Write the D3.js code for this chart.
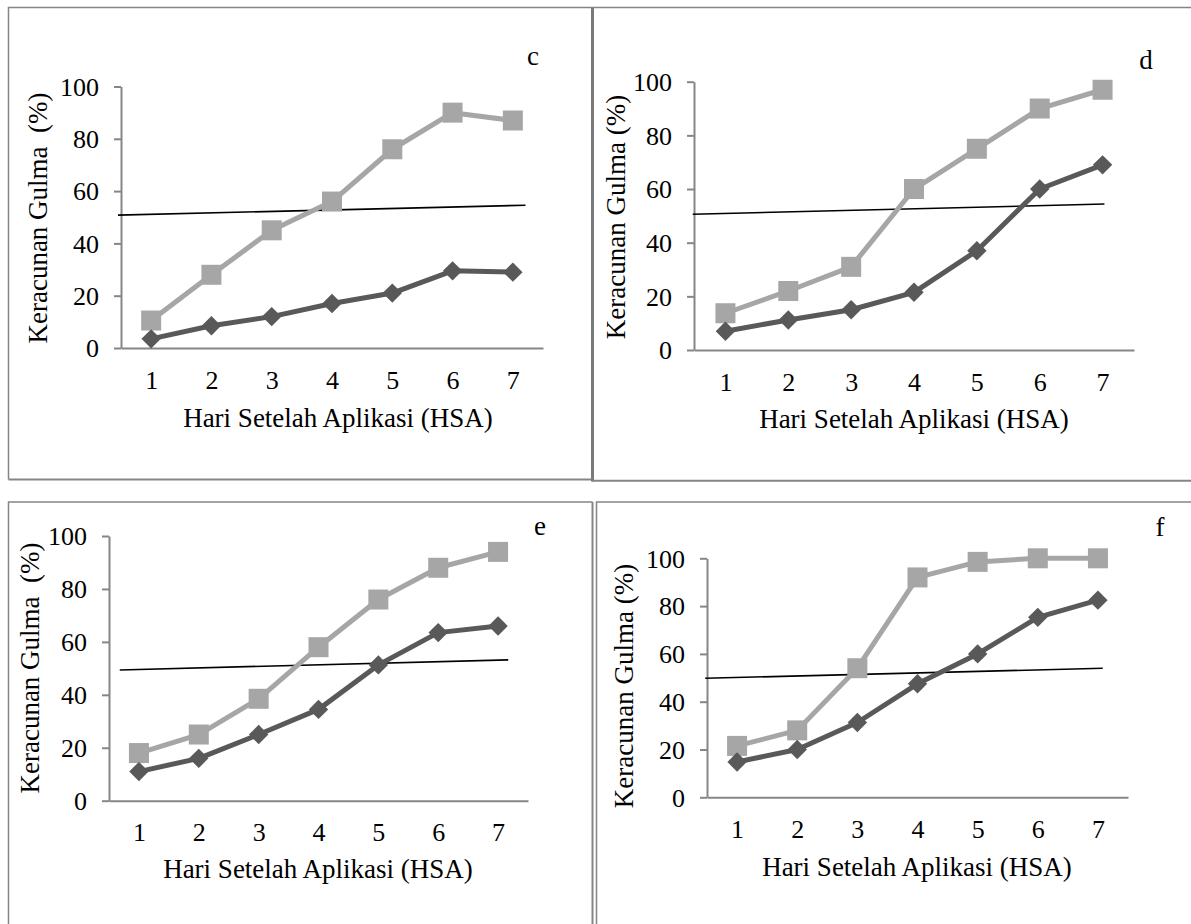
<!DOCTYPE html>
<html>
<head>
<meta charset="utf-8">
<script src="https://cdn.jsdelivr.net/npm/d3@7"></script>
<style>
  html, body { margin: 0; padding: 0; background: #fff; }
  svg { display: block; }
  text { font-family: "Liberation Serif", "Times New Roman", serif; fill: #000; }
</style>
</head>
<body>
<svg id="chart" width="1191" height="924"></svg>
<script>
// ---------- DATA ----------
const days = [1, 2, 3, 4, 5, 6, 7];
const yTicks = [0, 20, 40, 60, 80, 100];
const panelLabels = ["c", "d", "e", "f"];
const xAxisTitle = "Hari Setelah Aplikasi (HSA)";
const yAxisTitles = ["Keracunan Gulma  (%)", "Keracunan Gulma (%)", "Keracunan Gulma  (%)", "Keracunan Gulma (%)"];

// light grey series (squares)
const lightC = [10.5, 28, 45, 56, 76, 90, 87];
const lightD = [13.7, 22, 31, 60, 75, 90, 97];
const lightE = [18, 25, 38.5, 58, 76, 88, 94];
const lightF = [21.5, 28, 54, 92, 98.5, 100, 100];

// dark grey series (diamonds)
const darkC = [3.5, 8.5, 12, 17, 21, 29.5, 29];
const darkD = [7, 11.2, 15, 21.5, 37, 60, 69];
const darkE = [11, 16, 25, 34.5, 51.3, 63.5, 66];
const darkF = [14.8, 20, 31.3, 47.5, 60, 75.3, 82.5];

// black reference line: [day, value] at each end
const refC = [[0.45, 50.8], [7.21, 54.6]];
const refD = [[0.48, 50.6], [7.03, 54.4]];
const refE = [[0.68, 49.4], [7.17, 53.2]];
const refF = [[0.47, 49.8], [7.08, 54.0]];

// ---------- LAYOUT ----------
const panels = [
  { label: panelLabels[0], ytitle: yAxisTitles[0], light: lightC, dark: darkC, ref: refC,
    ax: 121, axEnd: 543, y0: 348, y100: 86.5,
    lab: [533, 65], ylab: [38, 218], xlab: [338, 427], tickBase: 389 },
  { label: panelLabels[1], ytitle: yAxisTitles[1], light: lightD, dark: darkD, ref: refD,
    ax: 694, axEnd: 1134, y0: 350, y100: 81.7,
    lab: [1146, 69], ylab: [616, 217], xlab: [914, 428], tickBase: 391 },
  { label: panelLabels[2], ytitle: yAxisTitles[2], light: lightE, dark: darkE, ref: refE,
    ax: 109, axEnd: 528, y0: 800.7, y100: 536,
    lab: [540, 535], ylab: [30.5, 668], xlab: [318, 878], tickBase: 841 },
  { label: panelLabels[3], ytitle: yAxisTitles[3], light: lightF, dark: darkF, ref: refF,
    ax: 707, axEnd: 1128, y0: 797.3, y100: 558.3,
    lab: [1160, 536], ylab: [624, 686], xlab: [917, 876], tickBase: 838 }
];

const FS_TICK = 26;
const FS_TITLE = 27;
const FONT = '"Liberation Serif", "Times New Roman", serif';
const axisColor = "#868686";
const lightColor = "#a6a6a6";
const darkColor = "#595959";
const borderColor = "#858585";

const svg = d3.select("#chart");
svg.append("rect").attr("width", 1191).attr("height", 924).attr("fill", "#fff");

// panel frames
const frames = svg.append("g").attr("fill", "none").attr("stroke", borderColor);
frames.append("path").attr("d", "M8.5,479.5 V7.5 H592").attr("stroke-width", 1.5);
frames.append("path").attr("d", "M8.5,479.5 H592").attr("stroke-width", 2);
frames.append("line").attr("x1", 592.5).attr("x2", 592.5).attr("y1", 7).attr("y2", 481.5).attr("stroke-width", 3).attr("stroke", "#7a7a7a");
frames.append("line").attr("x1", 592).attr("x2", 1191).attr("y1", 7.5).attr("y2", 7.5).attr("stroke-width", 1.5);
frames.append("line").attr("x1", 592).attr("x2", 1191).attr("y1", 480.8).attr("y2", 480.8).attr("stroke-width", 2);
frames.append("path").attr("d", "M8.5,924 V502 H592.5").attr("stroke-width", 1.5);
frames.append("line").attr("x1", 592.5).attr("x2", 592.5).attr("y1", 502).attr("y2", 924).attr("stroke-width", 2);
frames.append("path").attr("d", "M1191,502 H596.5 V924").attr("stroke-width", 1.5);

panels.forEach(p => {
  const g = svg.append("g");
  const x = d3.scaleLinear().domain([0.5, 7.5]).range([p.ax, p.axEnd]);
  const y = d3.scaleLinear().domain([0, 100]).range([p.y0, p.y100]);

  // x axis
  const xa = g.append("g").attr("transform", `translate(0,${p.y0})`)
    .call(d3.axisBottom(x).tickValues(days).tickSize(0).tickSizeOuter(0).tickFormat(d3.format("d")));
  xa.attr("font-family", null).attr("font-size", null);
  xa.select(".domain").attr("stroke", axisColor).attr("stroke-width", 2);
  xa.selectAll("text").style("font-size", FS_TICK + "px").style("font-family", FONT)
    .attr("fill", "#000").attr("y", p.tickBase - p.y0).attr("dy", 0);

  // y axis
  const ya = g.append("g").attr("transform", `translate(${p.ax},0)`)
    .call(d3.axisLeft(y).tickValues(yTicks).tickSize(7).tickSizeOuter(0).tickPadding(15));
  ya.attr("font-family", null).attr("font-size", null);
  ya.select(".domain").attr("stroke", axisColor).attr("stroke-width", 2);
  ya.selectAll(".tick line").attr("stroke", axisColor).attr("stroke-width", 2);
  ya.selectAll("text").style("font-size", FS_TICK + "px").style("font-family", FONT)
    .attr("fill", "#000").attr("dy", "0.34em");

  // reference line
  g.append("line")
    .attr("x1", x(p.ref[0][0])).attr("y1", y(p.ref[0][1]))
    .attr("x2", x(p.ref[1][0])).attr("y2", y(p.ref[1][1]))
    .attr("stroke", "#000").attr("stroke-width", 1.6);

  const line = d3.line().x((d, i) => x(days[i])).y(d => y(d));

  // light series
  g.append("path").datum(p.light).attr("d", line)
    .attr("fill", "none").attr("stroke", lightColor).attr("stroke-width", 5).attr("stroke-linejoin", "round");
  g.selectAll(".sq").data(p.light).enter().append("rect")
    .attr("x", (d, i) => x(days[i]) - 10).attr("y", d => y(d) - 10)
    .attr("width", 20).attr("height", 20).attr("fill", lightColor);

  // dark series
  g.append("path").datum(p.dark).attr("d", line)
    .attr("fill", "none").attr("stroke", darkColor).attr("stroke-width", 5).attr("stroke-linejoin", "round");
  const dsym = d3.symbol().type(d3.symbolDiamond2).size(240);
  g.selectAll(".dm").data(p.dark).enter().append("path")
    .attr("d", dsym)
    .attr("transform", (d, i) => `translate(${x(days[i])},${y(d)})`)
    .attr("fill", darkColor);

  // panel letter
  g.append("text").attr("x", p.lab[0]).attr("y", p.lab[1])
    .attr("text-anchor", "middle").style("font-size", FS_TITLE + "px").style("font-family", FONT).text(p.label);

  // axis titles
  g.append("text").attr("x", p.xlab[0]).attr("y", p.xlab[1])
    .attr("text-anchor", "middle").style("font-size", FS_TITLE + "px").style("font-family", FONT).text(xAxisTitle);
  g.append("text")
    .attr("transform", `translate(${p.ylab[0]},${p.ylab[1]}) rotate(-90)`)
    .attr("text-anchor", "middle").attr("dy", "0.33em")
    .style("font-size", FS_TITLE + "px").style("font-family", FONT)
    .style("white-space", "pre").text(p.ytitle);
});
</script>
</body>
</html>
